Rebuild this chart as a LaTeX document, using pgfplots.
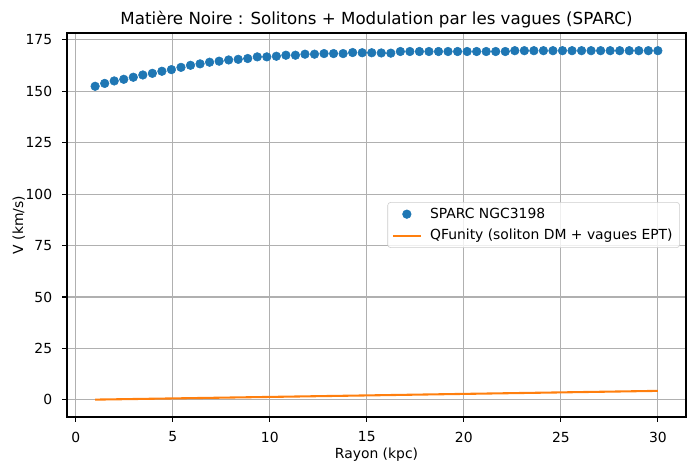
\documentclass[border=0pt]{standalone}
\usepackage{pgfplots}
\pgfplotsset{compat=1.18}
\usepackage{pgfplotstable}
\usepackage{fontspec}
\setmainfont{DejaVu Sans}

\definecolor{mplblue}{HTML}{1F77B4}
\definecolor{mplorange}{HTML}{FF7F0E}
\definecolor{gridgray}{HTML}{B0B0B0}

% Observed rotation curve, NGC 3198
\pgfplotstableread{
r V
1.000 152.4
1.492 153.8
1.983 155.0
2.475 155.8
2.966 156.8
3.458 157.9
3.949 158.7
4.441 159.7
4.932 160.5
5.424 161.6
5.915 162.6
6.407 163.3
6.898 164.1
7.390 164.6
7.881 165.2
8.373 165.5
8.864 165.9
9.356 166.7
9.847 166.7
10.339 167.0
10.831 167.5
11.322 167.5
11.814 168.0
12.305 168.0
12.797 168.3
13.288 168.3
13.780 168.3
14.271 168.8
14.763 168.7
15.254 168.7
15.746 168.6
16.237 168.5
16.729 169.3
17.220 169.3
17.712 169.3
18.203 169.3
18.695 169.3
19.186 169.3
19.678 169.3
20.169 169.3
20.661 169.3
21.153 169.3
21.644 169.3
22.136 169.3
22.627 169.7
23.119 169.7
23.610 169.7
24.102 169.7
24.593 169.7
25.085 169.7
25.576 169.7
26.068 169.7
26.559 169.7
27.051 169.7
27.542 169.7
28.034 169.7
28.525 169.7
29.017 169.7
29.508 169.7
30.000 169.7
}\sparc

% Model curve
\pgfplotstableread{
r V
1 0.15
5 0.73
10 1.46
15 2.19
20 2.93
25 3.66
30 4.40
}\model

\begin{document}
\begin{tikzpicture}
\begin{axis}[
  name=ax,
  scale only axis,
  width=445.7pt, height=276.5pt,
  xmin=-0.45, xmax=31.45,
  ymin=-8.3, ymax=178.3,
  xtick={0,5,...,30},
  ytick={0,25,...,175},
  xtick pos=left, ytick pos=left,
  /pgf/number format/assume math mode=true,
  tick label style={font=\fontsize{10}{12}\selectfont},
  xticklabel style={anchor=north, inner sep=0pt, yshift=-7pt},
  yticklabel style={anchor=east, inner sep=0pt, xshift=-7pt},
  tick align=outside,
  major tick length=3.5pt,
  every tick/.style={black, line width=0.8pt},
  axis line style={line width=0.8pt},
  grid=major,
  grid style={gridgray, line width=0.8pt},
  title={Matière Noire : Solitons + Modulation par les vagues (SPARC)},
  title style={at={(axis description cs:0.5,1)}, anchor=base, inner sep=0pt, font=\fontsize{12}{14}\selectfont},
  xlabel={Rayon (kpc)},
  xlabel style={at={(axis description cs:0.5,0)}, anchor=base, yshift=-30pt, inner sep=0pt, font=\fontsize{10}{12}\selectfont},
  ylabel={V (km/s)},
  ylabel style={at={([xshift=-30pt]axis description cs:0,0.5)}, rotate=0, anchor=south, inner sep=0pt, font=\fontsize{10}{12}\selectfont},
  legend cell align=left,
  legend style={at={(axis description cs:0.99,0.5)}, anchor=east,
    draw=black!20, rounded corners=2pt, fill=white, fill opacity=0.8, draw opacity=1, text opacity=1,
    font=\fontsize{10}{12}\selectfont, inner xsep=3pt, inner ysep=2pt,
    row sep=2.5pt},
]
\addplot[only marks, mark=*, mark size=3.1pt, color=mplblue,
  mark options={draw=none, fill=mplblue},
  legend image code/.code={\fill[mplblue, fill opacity=1] (10pt,0pt) circle (3.1pt); \path (0pt,0pt) (24pt,0pt);}]
  table[x=r, y=V] {\sparc};
\addlegendentry{SPARC NGC3198}
\addplot[mplorange, line width=1.5pt, no marks,
  legend image code/.code={\draw[mplorange, line width=1.5pt, draw opacity=1] (0pt,0pt) -- (20pt,0pt); \path (24pt,0pt);}]
  table[x=r, y=V] {\model};
\addlegendentry{QFunity (soliton DM + vagues EPT)}
\end{axis}
\pgfresetboundingbox
\path[use as bounding box] ([xshift=-48.24pt, yshift=-38.88pt]ax.south west) rectangle ([xshift=6.48pt, yshift=23.76pt]ax.north east);
\end{tikzpicture}
\end{document}
